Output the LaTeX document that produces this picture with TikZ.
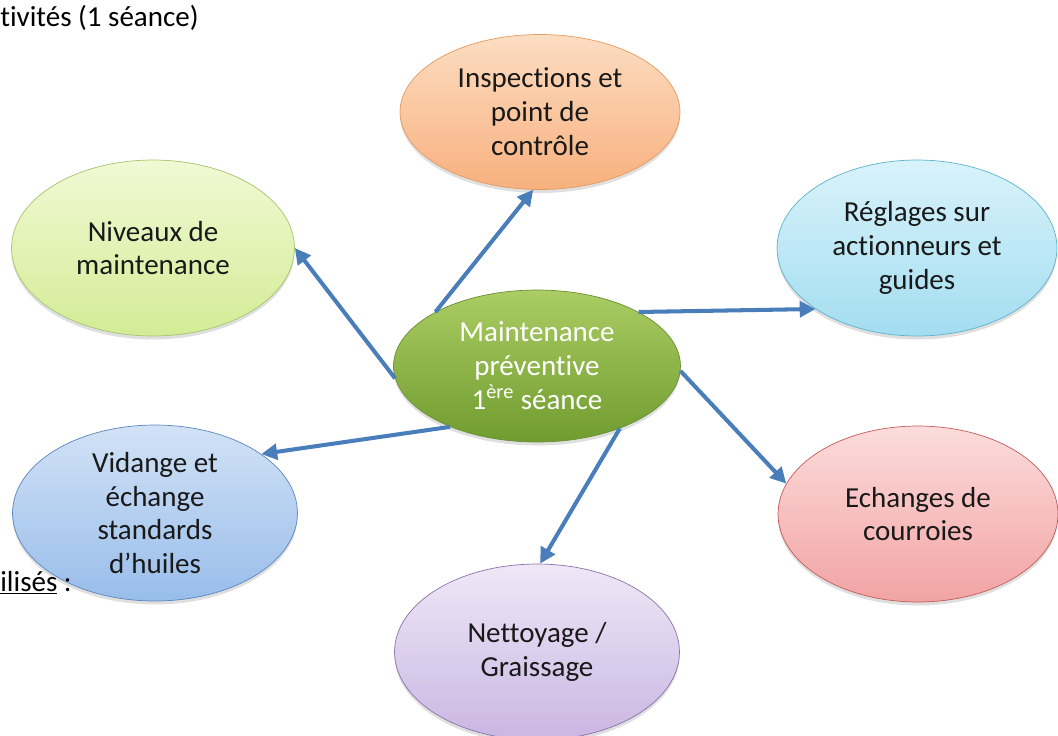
\documentclass[tikz,border=0pt]{standalone}
\usepackage{fontspec}
\setmainfont{Carlito}[Ligatures=NoCommon]
\usetikzlibrary{arrows.meta,shapes.geometric,shadows}

\definecolor{bleu}{HTML}{4A7EBB}
\definecolor{orc}{HTML}{FCDDC2}\definecolor{orm}{HTML}{F8B07E}\definecolor{orf}{HTML}{E39A5E}
\definecolor{niv1}{HTML}{F1F9D4}\definecolor{niv2}{HTML}{D3EC96}\definecolor{niv3}{HTML}{A8C46C}
\definecolor{cy1}{HTML}{D9F3FB}\definecolor{cy2}{HTML}{A3DDF0}\definecolor{cy3}{HTML}{5CB3CB}
\definecolor{vc}{HTML}{ABCD63}\definecolor{vm}{HTML}{709C2F}\definecolor{vf}{HTML}{6A8F33}
\definecolor{bl1}{HTML}{D2E2F6}\definecolor{bl2}{HTML}{98BDEA}\definecolor{bl3}{HTML}{5A86BF}
\definecolor{ro1}{HTML}{FCDCDC}\definecolor{ro2}{HTML}{F2A3A3}\definecolor{ro3}{HTML}{C35B58}
\definecolor{vi1}{HTML}{EFE8F7}\definecolor{vi2}{HTML}{C9B6E2}\definecolor{vi3}{HTML}{8A72AB}

\begin{document}
\begin{tikzpicture}[x=.02cm,y=-.02cm,
  bulle/.style={ellipse,minimum width=5.66cm,minimum height=3.52cm,inner sep=-8pt,
    align=center,font=\fontsize{16.5}{19.3}\selectfont,text=black!90,
    drop shadow={opacity=.25,shadow xshift=0pt,shadow yshift=-2pt}},
  fleche/.style={draw=bleu,line width=2.3pt,-{Triangle[length=9pt,width=9pt]}}]
\useasboundingbox (0,0) rectangle (1058,735);

% bulles
\node[bulle,minimum width=5.74cm,minimum height=3.04cm,draw=vf,top color=vc,bottom color=vm,text=white]
  (main) at (537,366) {Maintenance\\préventive\\1\textsuperscript{ère} séance};
\node[bulle,minimum width=5.6cm,minimum height=3.1cm,draw=orf,top color=orc,bottom color=orm]
  (insp) at (540,112) {Inspections et\\point de\\contrôle};
\node[bulle,draw=niv3,top color=niv1,bottom color=niv2] (niv) at (153,248) {Niveaux de\\maintenance};
\node[bulle,minimum width=5.6cm,draw=cy3,top color=cy1,bottom color=cy2] (regl) at (917,248) {Réglages sur\\actionneurs et\\guides};
\node[bulle,minimum width=5.7cm,draw=bl3,top color=bl1,bottom color=bl2] (vid) at (155,513) {Vidange et\\échange\\standards\\d’huiles};
\node[bulle,minimum width=5.6cm,draw=ro3,top color=ro1,bottom color=ro2] (ech) at (918,514) {Echanges de\\courroies};
\node[bulle,minimum width=5.7cm,draw=vi3,top color=vi1,bottom color=vi2] (net) at (537,652) {Nettoyage /\\Graissage};

% texte de la page
\node[anchor=base west,inner sep=0,font=\fontsize{16.5}{19.3}\selectfont] (haut) at (0,26) {tivités (1 séance)};
\node[anchor=base west,inner sep=0,font=\fontsize{16.5}{19.3}\selectfont] (bas) at (0,591) {\underline{ilisés} :};

% fleches
\draw[fleche] (main.152) -- (insp.-95);
\draw[fleche] (main.-175) -- (niv.0);
\draw[fleche] (main.28) -- (regl.-149);
\draw[fleche] (main.-2) -- (ech.167);
\draw[fleche] (main.-37) -- (net.88);
\draw[fleche] (main.-145) -- (vid.29);
\end{tikzpicture}
\end{document}
